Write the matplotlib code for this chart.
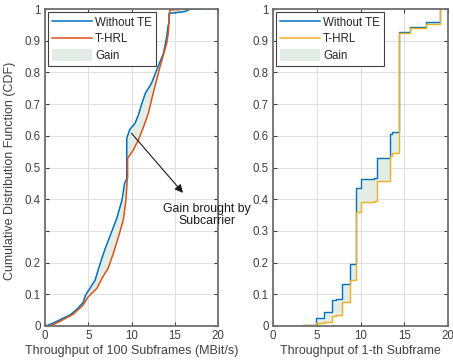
import numpy as np
import matplotlib
matplotlib.use("Agg")
import matplotlib.pyplot as plt
from matplotlib.patches import Patch
from matplotlib.lines import Line2D

plt.rcParams['font.family'] = ['Liberation Sans', 'DejaVu Sans']

# --- left panel: CDF of 100-subframe throughput ---
base_x = [0.0, 0.4, 1.0, 1.7, 2.9, 3.7, 4.4, 4.7, 5.2, 5.8, 6.2, 6.9, 7.7, 8.3, 8.9, 9.2,
          9.45, 9.45, 9.8, 10.4, 10.8, 11.2, 11.6, 12.3, 12.9, 13.7, 14.07, 14.25, 14.33,
          14.33, 16.2, 16.8, 18.3]
base_y = [0.0, 0.003, 0.01, 0.019, 0.035, 0.053, 0.074, 0.098, 0.119, 0.145, 0.182, 0.24,
          0.297, 0.34, 0.397, 0.45, 0.465, 0.592, 0.62, 0.639, 0.666, 0.702, 0.734, 0.765,
          0.807, 0.86, 0.913, 0.95, 0.955, 0.986, 0.992, 1.0, 1.0]

hrl_x = [0.5, 1.0, 1.7, 3.3, 4.4, 5.0, 6.0, 6.7, 7.3, 7.9, 8.5, 9.05, 9.36, 9.5, 9.55,
         9.55, 9.8, 10.2, 10.8, 11.4, 11.95, 12.5, 13.3, 14.07, 14.25, 14.4, 14.45, 16.5]
hrl_y = [0.0, 0.005, 0.014, 0.038, 0.066, 0.092, 0.119, 0.156, 0.182, 0.229, 0.282, 0.334,
         0.397, 0.46, 0.47, 0.529, 0.539, 0.555, 0.587, 0.629, 0.671, 0.734, 0.818, 0.892,
         0.923, 0.986, 0.997, 1.0]

# --- right panel: CDF of 1-th subframe throughput (steps) ---
step_x = [2.7, 3.4, 4.88, 5.83, 6.78, 7.17, 7.92, 8.8, 9.49, 10.06, 11.54, 11.85, 13.37,
          13.63, 14.44, 15.7, 17.5, 19.1]
step_base = [0.0, 0.002, 0.024, 0.045, 0.081, 0.085, 0.132, 0.196, 0.434, 0.465, 0.468,
             0.529, 0.605, 0.613, 0.928, 0.944, 0.96, 1.0]
step_hrl = [0.0, 0.002, 0.008, 0.014, 0.03, 0.035, 0.076, 0.145, 0.36, 0.391, 0.394,
            0.458, 0.536, 0.545, 0.923, 0.939, 0.953, 1.0]

c_blue = '#0072BD'
c_red = '#D95319'
c_yel = '#EDB120'
c_fill = '#e4ece6'
c_text = '#404040'
c_spine = '#707070'

fig = plt.figure(figsize=(4.53, 3.64), dpi=100)
ax1 = fig.add_axes([45 / 453, 38 / 364, 173 / 453, 317 / 364])
ax2 = fig.add_axes([273 / 453, 38 / 364, 175 / 453, 317 / 364])

# left
ax1.fill(np.r_[base_x, hrl_x[::-1]], np.r_[base_y, hrl_y[::-1]], color=c_fill, lw=0)
ax1.plot(base_x, base_y, color=c_blue, lw=1.1)
ax1.plot(hrl_x, hrl_y, color=c_red, lw=1.1)

# right
ax2.fill_between(step_x, step_base, step_hrl, step='post', color=c_fill, lw=0)
ax2.step(step_x, step_base, where='post', color=c_blue, lw=1.0)
ax2.step(step_x, step_hrl, where='post', color=c_yel, lw=1.0)

yt = np.round(np.arange(0, 1.01, 0.1), 1)
for ax, col in [(ax1, c_red), (ax2, c_yel)]:
    ax.set_xlim(0, 20)
    ax.set_ylim(0, 1)
    ax.set_xticks([0, 5, 10, 15, 20])
    ax.set_yticks(yt)
    ax.grid(True, color='#e0e0e0', lw=0.7)
    ax.set_axisbelow(True)
    ax.tick_params(direction='in', top=True, right=True, length=3, width=0.8,
                   color='#404040', labelcolor=c_text, labelsize=8.3, pad=3)
    for s in ax.spines.values():
        s.set_color(c_spine)
        s.set_linewidth(1.3)
    handles = [Line2D([], [], color=c_blue, lw=1.1), Line2D([], [], color=col, lw=1.1),
               Patch(facecolor=c_fill, edgecolor='none')]
    leg = ax.legend(handles, ['Without TE', 'T-HRL', 'Gain'], loc='upper left',
                    fontsize=8.3, frameon=True, fancybox=False, framealpha=1,
                    edgecolor='#404040', borderaxespad=0.3, handlelength=3.4,
                    handleheight=1.1, labelspacing=0.35, handletextpad=0.3,
                    borderpad=0.35)
    leg.get_frame().set_linewidth(0.8)
    for t in leg.get_texts():
        t.set_color('#262626')

ax1.set_yticklabels(['0' if v == 0 else ('1' if v == 1 else ('' if v == 0.3 else f'{v:g}'))
                     for v in yt])
ax2.set_yticklabels(['0' if v == 0 else ('1' if v == 1 else f'{v:g}') for v in yt])

ax1.set_xlabel('Throughput of 100 Subframes (MBit/s)', fontsize=9, color=c_text, labelpad=2)
ax2.set_xlabel('Throughput of 1-th Subframe', fontsize=9, color=c_text, labelpad=2)
ax1.set_ylabel('Cumulative Distribution Function (CDF)', fontsize=9, color=c_text)
ax1.yaxis.set_label_coords(-0.165, 0.49)

ax1.annotate('', xy=(15.95, 0.42), xytext=(10.0, 0.608),
             arrowprops=dict(arrowstyle='-|>', color='#1a1a1a', lw=0.8, mutation_scale=12,
                             shrinkA=0, shrinkB=0),
             annotation_clip=False)
fig.text(207 / 453, 1 - 215 / 364, 'Gain brought by\nSubcarrier', ha='center', va='center',
         multialignment='center', fontsize=8.8, color='#1a1a1a', linespacing=1.0)

fig.savefig('out.png', dpi=100)
